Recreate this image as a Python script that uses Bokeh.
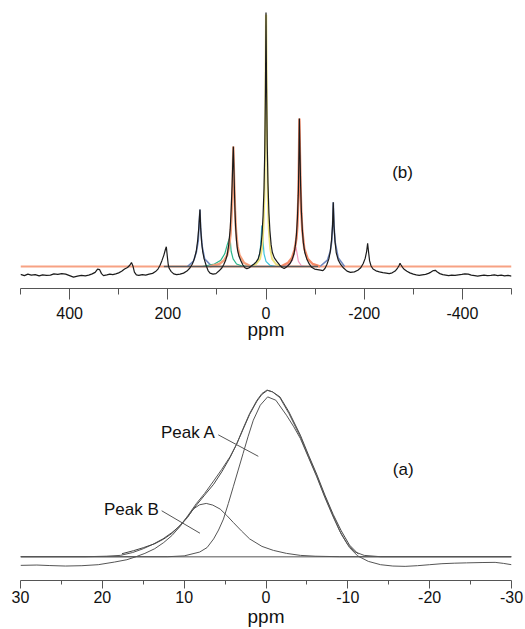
from bokeh.plotting import figure
from bokeh.layouts import column
from bokeh.models import Range1d, FixedTicker, Label, CustomJSTickFormatter
from bokeh.embed import file_html
from bokeh.resources import INLINE

# ---------------- Panel (b): full spectrum with spinning sidebands ----------------
b_ppm = [500, 492, 485, 478, 470, 462, 455, 447, 439, 432, 424, 416, 408, 400, 392, 384, 376, 368, 361, 354,
         348, 343, 339, 335, 331, 324, 318, 312, 306, 300, 294, 288, 282, 277, 274, 271, 268, 264, 259, 252,
         245, 238, 231, 225, 220, 216, 212, 208, 205, 203, 201, 199, 197, 193, 188, 182, 175, 168, 161, 155,
         150, 146, 142, 139, 137, 135.5, 134.5, 133, 131, 129, 126, 122, 118, 114, 108, 102, 96, 90, 86, 82,
         79, 76, 73, 71, 69, 67.5, 66.5, 65, 63.5, 62, 60, 58, 55, 51, 47, 43, 39, 35, 30, 25,
         20, 16, 13, 10, 8, 6, 4, 2.5, 1.2, 0, -1.2, -2.5, -4, -6, -8, -10.5, -13, -17, -22, -28,
         -33, -37, -41, -45, -49, -53, -57, -60, -62, -64, -66, -67.2, -68, -69.2, -70.5, -72, -74, -76, -79, -83,
         -88, -93, -99, -105, -111, -116, -120, -124, -128, -131, -133.5, -135.5, -137, -138.5, -140.5, -143, -147, -152, -158, -165,
         -172, -180, -187, -193, -198, -202, -205, -207, -209, -211, -214, -218, -224, -231, -238, -245, -251, -257, -263, -268,
         -271, -273, -275, -278, -282, -287, -293, -300, -306, -312, -318, -325, -331, -336, -341, -345, -349, -354, -360, -366,
         -372, -378, -385, -392, -399, -405, -412, -418, -425, -431, -437, -444, -451, -458, -465, -472, -479, -486, -493, -500]
b_int = [-3.1, -3.6, -3.0, -3.4, -3.2, -3.7, -3.3, -3.5, -3.4, -2.9, -3.1, -2.8, -3.0, -3.6, -4.2, -3.8, -3.5, -3.7, -3.4, -2.9,
         -2.3, -1.0, -1.2, -2.8, -3.6, -3.3, -3.0, -3.2, -2.9, -2.5, -1.9, -1.0, -0.4, 0.6, 1.6, 0.2, -2.2, -3.3, -3.5, -3.2,
         -3.4, -3.0, -2.7, -2.0, -1.0, 0.4, 2.3, 4.5, 6.6, 7.8, 4.0, 0.6, -0.8, -2.0, -2.9, -3.2, -3.0, -2.6, -1.8, -0.6,
         1.0, 3.0, 6.0, 10.5, 15.0, 19.5, 22.4, 15.0, 9.5, 6.0, 3.0, 0.5, -1.6, -2.6, -3.0, -2.8, -1.8, -0.6, 0.8, 2.6,
         4.6, 8.5, 14.5, 22.0, 32.0, 42.0, 47.2, 36.0, 24.0, 16.0, 10.0, 6.5, 4.0, 2.2, 0.6, -0.5, -0.9, -0.6, 0.2, 0.9,
         1.8, 3.0, 5.0, 8.5, 13.0, 20.0, 31.0, 46.0, 68.0, 100.0, 70.0, 48.0, 33.0, 21.0, 14.0, 8.5, 5.5, 3.4, 2.0, 0.5,
         -0.4, -0.8, -0.3, 0.4, 1.2, 2.6, 5.0, 8.5, 12.5, 19.0, 30.0, 45.0, 58.3, 45.0, 32.0, 22.0, 14.5, 9.5, 5.5, 3.0,
         1.0, -0.3, -1.0, -1.2, -1.4, -1.6, -0.8, 0.8, 3.0, 6.0, 10.5, 16.0, 25.3, 16.0, 10.0, 5.5, 2.6, 0.8, -0.6, -1.8,
         -2.3, -2.1, -1.5, -0.5, 1.2, 3.2, 6.0, 9.1, 5.5, 2.2, 0.2, -1.0, -1.7, -2.1, -2.4, -2.6, -2.8, -2.5, -1.8, -0.6,
         0.4, 1.3, 0.6, -0.3, -1.2, -1.9, -2.5, -3.0, -3.3, -3.5, -3.3, -3.1, -2.7, -2.2, -1.6, -1.5, -2.2, -2.8, -3.2, -3.4,
         -3.6, -3.4, -3.5, -3.3, -3.1, -2.9, -3.0, -3.4, -3.6, -3.8, -3.6, -3.4, -3.6, -3.5, -3.3, -3.6, -3.4, -3.7, -3.5, -3.8]

# fitted baseline and fit envelope floor
b_base_ppm = [500, -500]
b_base_int = [0, 0]
b_fitfloor_ppm = [208, -106]
b_fitfloor_int = [0, 0]

# fitted components
yel_ppm = [30, 20, 12, 8, 5, 3, 1.5, 0.3, -0.6, -1.9, -3.4, -5.4, -8.4, -12.4, -20, -30]
yel_int = [0, 1, 3, 7, 15, 28, 55, 99, 99, 55, 28, 15, 7, 3, 1, 0]
cyan_ppm = [35, 22, 16, 12, 10, 8.5, 7.5, 6, 4, 0, -8, -20]
cyan_int = [0, 1, 2.5, 6, 11, 16, 16, 10, 5, 2, 0.5, 0]
green_ppm = [130, 105, 92, 84, 79, 75, 73, 71, 67, 60, 50, 30]
green_int = [0, 1, 2.5, 5, 8.5, 10.9, 10.9, 6, 3, 1, 0.3, 0]
orange_ppm = [115, 95, 85, 79, 75, 72, 70, 68, 66.5, 65, 63, 61, 58, 54, 45, 30]
orange_int = [0, 1, 2.5, 4.5, 8, 13, 21, 33, 47.2, 35, 22, 14, 8, 4.5, 1.5, 0]
red_ppm = [-30, -45, -53, -58, -62, -64, -66, -67.2, -68, -69.2, -70.5, -72, -74, -78, -85, -95, -110]
red_int = [0, 1.5, 3.5, 6.5, 11, 16, 28, 44, 58.3, 44, 31, 21, 14, 7, 3, 1, 0]
pink_ppm = [-35, -48, -54, -57, -59, -61, -63, -66, -72, -80]
pink_int = [0, 1, 2.5, 4.5, 6.5, 7.6, 5.5, 2, 0.3, 0]
blueL_ppm = [160, 148, 142, 138, 135.5, 134.5, 133, 130, 125, 110]
blueL_int = [0, 2, 5.5, 10, 19, 22.4, 14.5, 8, 3, 0]
blueR_ppm = [-110, -125, -131, -134, -136, -137, -138.5, -141, -147, -160]
blueR_int = [0, 2.5, 6, 10, 18, 25.3, 16, 9.5, 3.5, 0]

b_major = [400, 200, 0, -200, -400]
b_minor = [500, 300, 100, -100, -300, -500]

# ---------------- Panel (a): central transition, two-peak fit ----------------
a_ppm = [30, 28, 26.5, 24.5, 22.5, 20.5, 18.5, 17, 16, 14.8, 13.6, 12.5, 11.5, 10.5, 9.5, 8.5, 7.5, 6.4, 5.4, 4.4,
         3.6, 2.8, 2.0, 1.1, 0.5, -0.1, -0.8, -1.7, -2.8, -4.2, -5.2, -6.2, -7.2, -8.2, -9.2, -10.2, -11.2, -12.5, -14, -15.5,
         -17, -18.5, -20, -21.5, -23, -24.5, -26.4, -28, -29, -30]
a_int = [-5.2, -5.0, -5.3, -5.6, -5.4, -4.8, -3.2, -1.8, -0.2, 2.0, 4.8, 8.5, 12.7, 18.2, 25.0, 32.0, 38.0, 45.5, 52.5, 60.0,
         67.5, 77.0, 86.0, 94.0, 98.0, 100, 99.0, 95.5, 86.0, 72.0, 60.0, 48.5, 36.0, 24.6, 13.5, 5.5, 0.5, -2.8, -4.8, -5.6,
         -5.8, -5.4, -4.8, -4.2, -3.9, -3.7, -3.5, -3.4, -4.0, -4.8]
fit_ppm = [17.6, 16.2, 15, 13.6, 12.5, 11.5, 10.5, 9.5, 8.5, 7.5, 6.4, 5.4, 4.4, 3.6, 2.8, 2.0, 1.1, 0.5, -0.2, -0.8,
           -1.7, -2.8, -4.2, -5.2, -6.2, -7.2, -8.2, -9.2, -10.2, -11.3]
fit_int = [1.8, 3.6, 5.4, 7.8, 10.6, 14.0, 18.8, 24.5, 31.0, 37.0, 43.5, 51.0, 59.5, 67.5, 76.5, 85.5, 93.5, 97.5, 100, 99.0,
           96, 87.0, 73.0, 61.0, 49.5, 37.0, 25.5, 15.5, 7.0, 1.5]
peakA_ppm = [30, 12, 10, 8.1, 7.2, 6.4, 5.8, 5.2, 4.6, 4.0, 3.4, 2.8, 2.2, 1.55, 0.7, -0.2, -1.2, -2.5, -3.4, -4.2,
             -5.2, -6.2, -7.2, -8.2, -9.0, -9.9, -10.8, -12, -14, -30]
peakA_int = [0, 0, 0.5, 2.8, 5.5, 10.7, 16, 22.6, 32, 42, 52, 62, 72, 82, 91, 96, 94, 85, 78, 71,
             59.5, 48, 35.5, 24, 15.5, 8, 3, 0.8, 0, 0]
peakB_ppm = [30, 22, 19.5, 17.8, 16.3, 15, 13.8, 12.6, 11.5, 10.5, 9.6, 8.9, 8.1, 7.3, 6.5, 5.6, 4.8, 4.0, 3.0, 2.0,
             0.5, -0.9, -2.5, -4.2, -6, -9, -30]
peakB_int = [0, 0, 0.3, 0.8, 2.5, 4.8, 7.5, 10.7, 14.5, 18.6, 23.5, 28.6, 31.2, 32, 31, 28.6, 24.8, 20.6, 15.5, 10.7,
             6.2, 3.8, 2.0, 0.8, 0.3, 0, 0]
a_base_ppm = [30, -30]
a_base_int = [0, 0]

a_major = [30, 20, 10, 0, -10, -20, -30]
a_minor = [25, 15, 5, -5, -15, -25]

# annotation anchors (data coordinates)
leaderA = ([5.83, 0.94], [73.2, 60.3])
leaderB = ([12.75, 8.07], [27.6, 14.1])

FONT = "Liberation Sans"
INK = "#111111"
AXIS = "#555555"


def style_axis(p, major, minor, tick_out, minor_out, standoff, lab_standoff):
    p.xaxis.ticker = FixedTicker(ticks=major, minor_ticks=minor)
    p.xaxis.formatter = CustomJSTickFormatter(code="return String(tick);")
    ax = p.xaxis[0]
    ax.axis_label = "ppm"
    ax.axis_label_text_font = FONT
    ax.axis_label_text_font_size = "19px"
    ax.axis_label_text_font_style = "normal"
    ax.axis_label_text_color = INK
    ax.axis_label_standoff = lab_standoff
    ax.major_label_text_font = FONT
    ax.major_label_text_font_size = "16px"
    ax.major_label_text_color = INK
    ax.major_label_standoff = standoff
    ax.axis_line_color = AXIS
    ax.major_tick_line_color = AXIS
    ax.minor_tick_line_color = AXIS
    ax.major_tick_in = 0
    ax.major_tick_out = tick_out
    ax.minor_tick_in = 0
    ax.minor_tick_out = minor_out
    p.xgrid.visible = False
    p.ygrid.visible = False
    p.outline_line_color = None
    p.background_fill_color = "white"
    p.border_fill_color = "white"


def text(p, x, y, s, size="17px", align="left"):
    p.add_layout(Label(x=x, y=y, text=s, text_font=FONT, text_font_size=size,
                       text_color=INK, text_baseline="alphabetic", text_align=align))


# ---------- top figure ----------
p1 = figure(width=525, height=355, x_range=Range1d(500, -500), y_range=Range1d(-8.66, 100.8),
            y_axis_type=None, output_backend="svg", toolbar_location=None,
            min_border_left=20, min_border_right=14, min_border_top=10, min_border_bottom=67)
style_axis(p1, b_major, b_minor, 11, 6, 7, -3)

p1.line(b_base_ppm, b_base_int, line_color="#f7a283", line_width=2)
p1.line(blueL_ppm, blueL_int, line_color="#7088c0", line_width=1.6)
p1.line(blueR_ppm, blueR_int, line_color="#7088c0", line_width=1.6)
p1.line(green_ppm, green_int, line_color="#2bb58a", line_width=1.2)
p1.line(cyan_ppm, cyan_int, line_color="#3cc4dc", line_width=1.2)
p1.line(pink_ppm, pink_int, line_color="#f29ac0", line_width=1.2)
p1.line(orange_ppm, orange_int, line_color="#f5a07c", line_width=2.4)
p1.line(red_ppm, red_int, line_color="#f48a68", line_width=2.4)
p1.line(yel_ppm, yel_int, line_color="#ece27a", line_width=1.8)
p1.line(b_fitfloor_ppm, b_fitfloor_int, line_color="#5a5a5a", line_width=1.3)
p1.line(b_ppm, b_int, line_color="#1c1c1c", line_width=1.2)

text(p1, -257, 37.0, "(b)")

# ---------- bottom figure ----------
p2 = figure(width=525, height=274, x_range=Range1d(30, -30), y_range=Range1d(-14.29, 119.05),
            y_axis_type=None, output_backend="svg", toolbar_location=None,
            min_border_left=20, min_border_right=14, min_border_top=3, min_border_bottom=47)
style_axis(p2, a_major, a_minor, 8, 4, 2, 0)

p2.line(a_base_ppm, a_base_int, line_color="#8c8c8c", line_width=1.6)
p2.line(peakB_ppm, peakB_int, line_color="#555555", line_width=1)
p2.line(peakA_ppm, peakA_int, line_color="#555555", line_width=1)
p2.line(fit_ppm, fit_int, line_color="#444444", line_width=1)
p2.line(a_ppm, a_int, line_color="#555555", line_width=1)

p2.line(leaderA[0], leaderA[1], line_color="#555555", line_width=1)
p2.line(leaderB[0], leaderB[1], line_color="#555555", line_width=1)
text(p2, 12.84, 74.4, "Peak A")
text(p2, 19.8, 28.6, "Peak B")
text(p2, -15.5, 52.4, "(a)")

layout = column(p1, p2, spacing=0)
open("out.html", "w").write(file_html(layout, INLINE))
